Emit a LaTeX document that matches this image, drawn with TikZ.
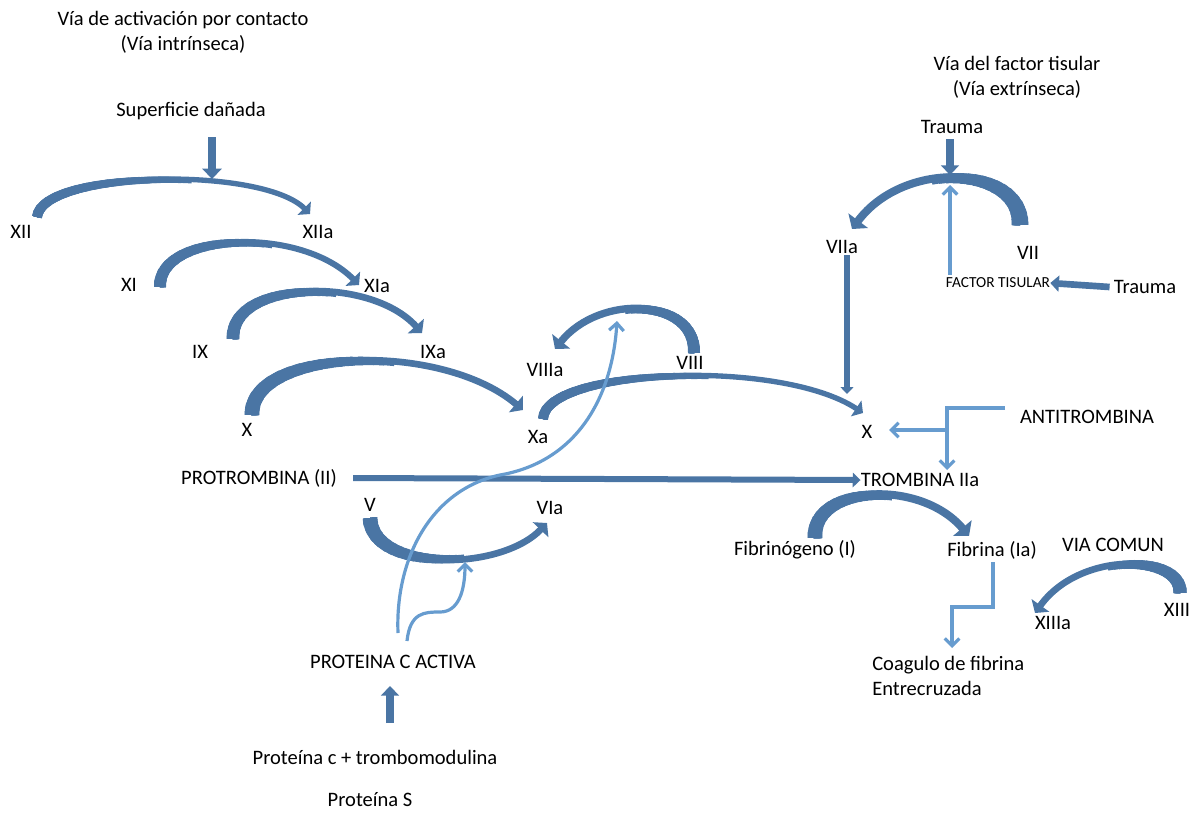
\documentclass[tikz,border=0pt]{standalone}
\usepackage{fontspec}
\setmainfont{Carlito}
\usetikzlibrary{arrows.meta}
\definecolor{dblue}{RGB}{74,117,164}
\definecolor{lblue}{RGB}{103,156,207}
% Curved reaction arrow whose band narrows from its tail towards the head:
% #1 tail width (pt), #2 head-side width (pt), #3 length of the taper (pt), #4 path
\newcommand\taperarc[4]{%
  \foreach \k in {1,...,16}{%
    \pgfmathsetmacro\tw{#2+(#1-#2)*(17-\k)/16}%
    \pgfmathsetmacro\tl{#3*\k/16}%
    \draw[draw=dblue, line width=\tw pt, line cap=butt,
          dash pattern=on \tl pt off 3000pt] #4;
  }%
  \draw[bend=#2pt] #4;
}
\begin{document}
\begin{tikzpicture}[x=0.75pt,y=-0.75pt,
  lbl/.style={inner sep=0pt, font=\fontsize{15.4}{18.75}\selectfont},
  smalllbl/.style={inner sep=0pt, font=\fontsize{11.5}{14}\selectfont},
  bend/.style={draw=dblue, line width=#1, line cap=butt,
    -{Triangle[length=3pt 0.8, width=6pt 2]}},
  bend/.default=6pt,
  fat/.style={draw=dblue, line width=#1,
    -{Triangle[length=0pt 1.3, width=0pt 2.4]}},
  fat/.default=6pt,
  thin/.style={draw=lblue, line width=2.4pt,
    -{Straight Barb[length=5.5pt, width=11pt]}}
]
\useasboundingbox (0,0) rectangle (1194,814);

% ---------- headings ----------
\node[lbl, align=center] (ttlin) at (183,32) {Vía de activación por contacto\\(Vía intrínseca)};
\node[lbl, align=center] (ttlex) at (1017,77) {Vía del factor tisular\\(Vía extrínseca)};
\node[lbl] (sup) at (191,111) {Superficie dañada};

% ---------- factor labels ----------
\node[lbl] (xii)   at (21,232)  {XII};
\node[lbl] (xiia)  at (318,232) {XIIa};
\node[lbl] (xi)    at (129,285) {XI};
\node[lbl] (xia)   at (377,286) {XIa};
\node[lbl] (ix)    at (200,352) {IX};
\node[lbl] (ixa)   at (433,352) {IXa};
\node[lbl] (x)     at (247,430) {X};
\node[lbl] (xa)    at (538,437) {Xa};
\node[lbl] (viiia) at (545,370) {VIIIa};
\node[lbl] (viii)  at (690,363) {VIII};
\node[lbl] (xr)    at (867,432) {X};
\node[lbl] (viia)  at (842,247) {VIIa};
\node[lbl] (vii)   at (1028,253) {VII};
\node[lbl] (trA)   at (952,127) {Trauma};
\node[smalllbl] (ft) at (998,283) {FACTOR TISULAR};
\node[lbl] (trB)   at (1145,287) {Trauma};
\node[lbl] (anti)  at (1087,417) {ANTITROMBINA};
\node[lbl] (prot)  at (259,478) {PROTROMBINA (II)};
\node[lbl] (trom)  at (920,480) {TROMBINA IIa};
\node[lbl] (v)     at (370,505) {V};
\node[lbl] (via)   at (550,508) {VIa};
\node[lbl] (fibg)  at (795,550) {Fibrinógeno (I)};
\node[lbl] (fib)   at (992,550) {Fibrina (Ia)};
\node[lbl] (comun) at (1113,545) {VIA COMUN};
\node[lbl] (xiiia) at (1053,623) {XIIIa};
\node[lbl] (xiii)  at (1177,610) {XIII};
\node[lbl, align=left, anchor=west] (coag) at (872,676) {Coagulo de fibrina\\Entrecruzada};
\node[lbl] (pca)   at (393,662) {PROTEINA C ACTIVA};
\node[lbl] (ptm)   at (375,757) {Proteína c + trombomodulina};
\node[lbl] (ps)    at (370,800) {Proteína S};

% ---------- end points of the activation arcs ----------
\coordinate (xiiS)  at (37,217);   \coordinate (xiiT)  at (310,214);
\coordinate (xiS)   at (160,287);  \coordinate (xiT)   at (359,285);
\coordinate (ixS)   at (233,339);  \coordinate (ixT)   at (422,333);
\coordinate (xS)    at (252,415);  \coordinate (xT)    at (523,410);
\coordinate (xaS)   at (543,419);  \coordinate (xaT)   at (863,413);
\coordinate (viiiS) at (694,353);  \coordinate (viiiT) at (555,349);
\coordinate (vS)    at (370,518);  \coordinate (vT)    at (547,523);
\coordinate (viiS)  at (1020,225); \coordinate (viiT)  at (852,229);
\coordinate (fgS)   at (815,538);  \coordinate (fgT)   at (969,536);
\coordinate (xiiiS) at (1180,593); \coordinate (xiiiT) at (1035,613);

% ---------- intrinsic cascade ----------
\taperarc{7.5}{4}{125}{(xiiS) .. controls (42,170) and (262,166) .. (xiiT)}
\taperarc{9}{4.5}{100}{(xiS) .. controls (158,232) and (300,225) .. (xiT)}
\taperarc{9.5}{5}{95}{(ixS) .. controls (230,280) and (370,275) .. (ixT)}
\taperarc{11}{5}{125}{(xS) .. controls (250,348) and (440,340) .. (xT)}
\taperarc{7.5}{4}{135}{(xaS) .. controls (545,368) and (780,358) .. (xaT)}
\taperarc{9}{5.5}{70}{(viiiS) .. controls (696,298) and (600,293) .. (viiiT)}
\taperarc{11}{5}{85}{(vS) .. controls (372,572) and (500,572) .. (vT)}

% ---------- extrinsic pathway ----------
\taperarc{12.5}{6}{85}{(viiS) .. controls (1022,166) and (905,158) .. (viiT)}

% ---------- common pathway ----------
\taperarc{11}{6}{75}{(fgS) .. controls (812,485) and (920,478) .. (fgT)}
\taperarc{10}{5}{65}{(xiiiS) .. controls (1182,554) and (1080,550) .. (xiiiT)}

% ---------- straight arrows ----------
\coordinate (supA) at (212,137);  \coordinate (supB) at (212,179);
\draw[fat=6pt] (supA) -- (supB);
\coordinate (trAa) at (950,139);  \coordinate (trAb) at (950,175);
\draw[fat=5.5pt] (trAa) -- (trAb);
\coordinate (viiaA) at (847,255); \coordinate (viiaB) at (847,394);
\draw[fat=4pt] (viiaA) -- (viiaB);
\draw[fat=5pt] (trB.west) ++(-4,0) coordinate (trBa) -- (ft.east);
\draw[fat=4.5pt] (prot.east) ++(16,0) coordinate (protA) -- (trom.west);
\coordinate (ptmA) at (390,723);  \coordinate (ptmB) at (390,686);
\draw[fat=5.5pt] (ptmA) -- (ptmB);

% ---------- inhibitors and cofactors (light arrows) ----------
\coordinate (ftTip) at (950,185);
\draw[thin] (ft.north -| ftTip) ++(0,-3) -- (ftTip);

\coordinate (pcaA) at (398,633);  \coordinate (pcaTip) at (617,321);
\draw[thin] (pcaA) .. controls (395,560) and (430,490) .. (500,475)
                  .. controls (575,462) and (612,400) .. (pcaTip);
\coordinate (pcaB) at (407,641);  \coordinate (vTip) at (465,562);
\draw[thin] (pcaB) .. controls (410,612) and (425,612) .. (440,612)
                  .. controls (458,612) and (465,592) .. (vTip);

\coordinate (atA) at (1005,408); \coordinate (atJ) at (947,408);
\coordinate (atK) at (947,430);  \coordinate (atT) at (947,470);
\coordinate (xrTip) at (889,430);
\draw[thin] (atA) -- (atJ) -- (atT);
\draw[thin] (atK) -- (xrTip);

\coordinate (fbA) at (993,562); \coordinate (fbT) at (952,648);
\draw[thin] (fbA) -- (993,607) -| (fbT);
\end{tikzpicture}
\end{document}
